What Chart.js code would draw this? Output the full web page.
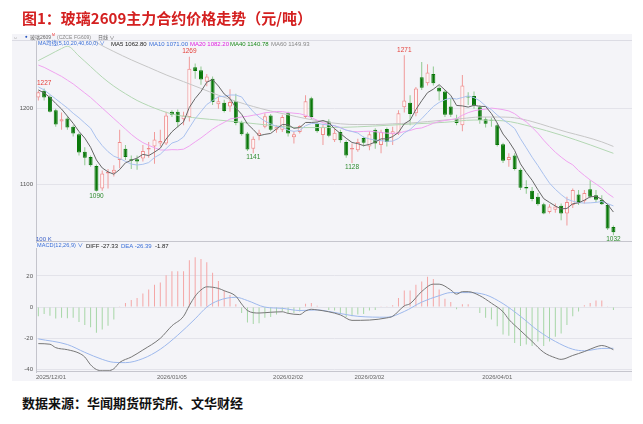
<!DOCTYPE html>
<html>
<head>
<meta charset="utf-8">
<title>玻璃2609主力合约价格走势</title>
<script src="https://cdn.jsdelivr.net/npm/chart.js@4.4.1/dist/chart.umd.min.js"></script>
<style>
  body { margin: 0; width: 643px; height: 424px; background: #fff; position: relative; overflow: hidden; }
  .abs { position: absolute; white-space: nowrap; line-height: 1; }
  #title { left: 22px; top: 7px; font: bold 15px "Noto Sans CJK SC", sans-serif; color: #d42020; }
  #source { left: 22px; top: 393px; font: bold 13px "Noto Sans CJK SC", sans-serif; color: #111; }
  #panel { left: 12px; top: 34px; width: 620px; height: 347px; background: #f4f4f8; }
  #topline { left: 12px; top: 40px; width: 620px; height: 1px; background: #dcdce4; }
  .tiny { font-size: 6px; font-family: "Liberation Sans", "Noto Sans CJK SC", sans-serif; }
  canvas { position: absolute; left: 0; }
</style>
</head>
<body>
<div id="panel" class="abs"></div>
<div id="topline" class="abs"></div>
<canvas id="macdChart" width="643" height="148" style="top:242px"></canvas>
<canvas id="priceChart" width="643" height="220" style="top:30px"></canvas>

<div id="title" class="abs">图1：玻璃2609主力合约价格走势（元/吨）</div>

<span class="abs tiny" style="left:13px;top:34.5px;color:#777;font-size:5px">⇔</span>
<span class="abs tiny" style="left:25px;top:34.5px;color:#1f4fbf;font-size:4.5px">●</span>
<span class="abs tiny" style="left:30px;top:34.5px;color:#666;font-size:5px">玻璃2609</span>
<span class="abs tiny" style="left:52px;top:33.5px;color:#e33;font-size:3.5px">M</span>
<span class="abs tiny" style="left:57px;top:34.5px;color:#888;font-size:5px">(CZCE</span>
<span class="abs tiny" style="left:74px;top:34.5px;color:#888;font-size:5px">FG609)</span>
<span class="abs tiny" style="left:98px;top:34.5px;color:#666;font-size:5px">日线 ∨</span>

<span class="abs tiny" style="left:38px;top:40.5px;color:#3a6fd8;font-size:5.4px">MA均线(5,10,20,40,60,0) ∨</span>
<span class="abs tiny" style="left:111px;top:40.5px;color:#222">MA5 1062.80</span>
<span class="abs tiny" style="left:149px;top:40.5px;color:#3a6fd8">MA10 1071.00</span>
<span class="abs tiny" style="left:190px;top:40.5px;color:#e020e0">MA20 1082.20</span>
<span class="abs tiny" style="left:230px;top:40.5px;color:#1a8a1a">MA40 1140.78</span>
<span class="abs tiny" style="left:271px;top:40.5px;color:#888">MA60 1149.93</span>

<span class="abs tiny" style="left:36px;top:236px;color:#3a5fc8">100 K</span>
<span class="abs tiny" style="left:37px;top:243px;color:#3a6fd8;font-size:5.6px">MACD(12,26,9) ∨</span>
<span class="abs tiny" style="left:86px;top:243px;color:#222">DIFF -27.33</span>
<span class="abs tiny" style="left:121px;top:243px;color:#3a6fd8">DEA -26.39</span>
<span class="abs tiny" style="left:155px;top:243px;color:#222">-1.87</span>

<div id="source" class="abs">数据来源：华闻期货研究所、文华财经</div>

<script>
//DATA

const dates = [
  "2025/12/01","2025/12/02","2025/12/03","2025/12/04","2025/12/05","2025/12/08","2025/12/09","2025/12/10","2025/12/11","2025/12/12",
  "2025/12/15","2025/12/16","2025/12/17","2025/12/18","2025/12/19","2025/12/22","2025/12/23","2025/12/24","2025/12/25","2025/12/26",
  "2025/12/29","2025/12/30","2025/12/31","2026/01/05","2026/01/06","2026/01/07","2026/01/08","2026/01/09","2026/01/12","2026/01/13",
  "2026/01/14","2026/01/15","2026/01/16","2026/01/19","2026/01/20","2026/01/21","2026/01/22","2026/01/23","2026/01/26","2026/01/27",
  "2026/01/28","2026/01/29","2026/01/30","2026/02/02","2026/02/03","2026/02/04","2026/02/05","2026/02/06","2026/02/09","2026/02/10",
  "2026/02/11","2026/02/12","2026/02/13","2026/02/24","2026/02/25","2026/02/26","2026/02/27","2026/03/02","2026/03/03","2026/03/04",
  "2026/03/05","2026/03/06","2026/03/09","2026/03/10","2026/03/11","2026/03/12","2026/03/13","2026/03/16","2026/03/17","2026/03/18",
  "2026/03/19","2026/03/20","2026/03/23","2026/03/24","2026/03/25","2026/03/26","2026/03/27","2026/03/30","2026/03/31","2026/04/01",
  "2026/04/02","2026/04/03","2026/04/07","2026/04/08","2026/04/09","2026/04/10","2026/04/13","2026/04/14","2026/04/15","2026/04/16",
  "2026/04/17","2026/04/20","2026/04/21","2026/04/22","2026/04/23","2026/04/24","2026/04/27","2026/04/28","2026/04/29","2026/04/30"
];

const opens = [
  1215,1224,1216,1198,1183,1187,1176,1166,1143,1136, 1124,1094,1114,1115,1132,1147,1133,1133,1134,1146,
  1150,1154,1154,1196,1196,1186,1189,1255,1251,1236, 1240,1206,1208,1203,1210,1182,1167,1147,1164,1176,
  1191,1172,1172,1194,1162,1169,1189,1214,1180,1165, 1183,1158,1169,1156,1146,1145,1161,1150,1172,1152,
  1173,1166,1167,1202,1208,1194,1242,1234,1246,1228, 1223,1203,1187,1178,1216,1217,1202,1186,1185,1178,
  1153,1132,1138,1119,1096,1091,1083,1073,1063,1066, 1071,1061,1072,1086,1077,1093,1085,1079,1072,1043
];
const highs = [
  1224,1227,1218,1200,1195,1190,1178,1168,1149,1138, 1126,1118,1120,1125,1172,1152,1138,1138,1152,1156,
  1169,1172,1196,1198,1199,1196,1269,1260,1256,1246, 1243,1216,1212,1226,1220,1184,1169,1163,1172,1194,
  1193,1178,1192,1196,1170,1178,1218,1216,1182,1180, 1186,1174,1172,1158,1154,1160,1163,1170,1174,1172,
  1175,1176,1198,1271,1218,1229,1262,1259,1256,1231, 1225,1214,1192,1245,1222,1223,1205,1189,1188,1181,
  1155,1141,1141,1121,1105,1096,1088,1075,1073,1074, 1074,1083,1094,1092,1092,1105,1092,1085,1074,1045
];
const lows = [
  1211,1211,1195,1176,1172,1172,1163,1138,1125,1123, 1090,1091,1094,1110,1121,1132,1120,1119,1130,1135,
  1127,1150,1152,1189,1175,1178,1183,1240,1232,1230, 1205,1200,1195,1196,1178,1164,1144,1141,1158,1174,
  1170,1168,1169,1163,1154,1167,1187,1186,1168,1152, 1162,1156,1155,1135,1128,1143,1150,1145,1147,1141,
  1150,1152,1165,1195,1178,1190,1225,1231,1231,1211, 1189,1189,1178,1170,1205,1200,1180,1175,1176,1150,
  1128,1123,1118,1092,1087,1077,1071,1060,1061,1062, 1052,1045,1068,1072,1074,1081,1076,1072,1039,1032
];
const closes = [
  1222,1215,1196,1179,1186,1175,1167,1142,1135,1125, 1091,1114,1116,1119,1156,1136,1131,1130,1144,1148,
  1159,1157,1191,1192,1182,1191,1253,1250,1239,1243, 1209,1210,1197,1209,1181,1166,1146,1160,1168,1190,
  1172,1176,1189,1167,1166,1177,1210,1189,1170,1176, 1164,1168,1158,1138,1148,1156,1155,1166,1154,1169,
  1156,1170,1194,1211,1193,1227,1228,1248,1234,1223, 1192,1192,1181,1231,1215,1204,1185,1180,1184,1152,
  1131,1136,1120,1095,1094,1080,1073,1061,1070,1070, 1061,1076,1092,1076,1088,1083,1079,1073,1041,1036
];

const ma5 = [
  1225,1221,1215,1207,1199.6,1190.2,1180.6,1169.8,1161,1148.8, 1132,1121.4,1116.2,1113,1119.2,1128.2,1131.6,1134.4,1139.4,1137.8,
  1142.4,1147.6,1159.8,1169.4,1176.2,1182.6,1201.8,1213.6,1223,1235.2, 1238.8,1230.2,1219.6,1213.6,1201.2,1192.6,1179.8,1172.4,1164.2,1166,
  1167.2,1173.2,1179,1178.8,1174,1175,1181.8,1181.8,1182.4,1184.4, 1181.8,1173.4,1167.2,1160.8,1155.2,1153.6,1151,1152.6,1155.8,1160,
  1160,1163,1168.6,1180,1184.8,1199,1210.6,1221.4,1226,1232, 1225,1217.8,1204.4,1203.8,1202.2,1204.6,1203.2,1203,1193.6,1181,
  1166.4,1156.6,1144.6,1126.8,1115.2,1105,1092.4,1080.6,1075.6,1070.8, 1067,1067.6,1073.8,1075,1078.6,1083,1083.6,1079.8,1072.8,1062.8
];
const ma10 = [
  1229,1225,1219,1213,1207,1201,1194,1188,1181,1174.2, 1161.1,1151,1143,1137,1134,1130.1,1126.5,1125.3,1126.2,1128.5,
  1135.3,1139.6,1147.1,1154.4,1157,1162.5,1174.7,1186.7,1196.2,1205.7, 1210.7,1216,1216.6,1218.3,1218.2,1215.7,1205,1196,1188.9,1183.6,
  1179.9,1176.5,1175.7,1171.5,1170,1171.1,1177.5,1180.4,1180.6,1179.2, 1178.4,1177.6,1174.5,1171.6,1169.8,1167.7,1162.2,1159.9,1158.3,1157.6,
  1156.8,1157,1160.6,1167.9,1172.4,1179.5,1186.8,1195,1203,1208.4, 1212,1214.2,1212.9,1214.9,1217.1,1214.8,1210.5,1203.7,1198.7,1191.6,
  1185.5,1179.9,1173.8,1160.2,1148.1,1135.7,1124.5,1112.6,1101.2,1093, 1086,1080,1077.2,1075.3,1074.7,1075,1075.6,1076.8,1073.9,1071
];
const ma20 = [
  1258,1255,1251,1247,1243,1238,1233,1227,1221,1215, 1208,1201,1194,1187,1180,1173,1166,1160,1155,1151.4,
  1148.2,1145.3,1145.1,1145.7,1145.5,1146.3,1150.6,1156,1161.2,1167.1, 1173,1177.8,1181.9,1186.4,1187.6,1189.1,1189.9,1191.4,1192.6,1194.7,
  1195.3,1196.3,1196.2,1194.9,1194.1,1193.4,1191.3,1188.2,1184.8,1181.4, 1179.2,1177.1,1175.1,1171.6,1169.9,1169.4,1169.9,1170.2,1169.5,1168.4,
  1167.6,1167.3,1167.6,1169.8,1171.1,1173.6,1174.5,1177.5,1180.7,1183, 1184.4,1185.6,1186.8,1191.4,1194.8,1197.2,1198.7,1199.4,1200.9,1200,
  1198.8,1197.1,1193.4,1187.6,1182.6,1175.3,1167.5,1158.2,1150,1142.3, 1135.8,1130,1125.5,1117.8,1111.4,1105.4,1100.1,1094.7,1087.6,1082.2
];
const ma40Idx = [0, 2, 4, 5, 7, 9, 11, 13, 15, 17, 19, 21, 23, 25, 28, 31, 35, 40, 45, 50, 55, 60, 65, 70, 75, 80, 85, 90, 95, 99];
const ma40Vals = [1264, 1272, 1280, 1283, 1270, 1256, 1242, 1230, 1220, 1211, 1204, 1198, 1193, 1190, 1187, 1185, 1182, 1178, 1175, 1175, 1176, 1178, 1180, 1182, 1185, 1184, 1176, 1165, 1152, 1140.8];
const ma60Idx = [8, 10, 13, 16, 19, 22, 25, 28, 31, 34, 37, 40, 43, 46, 49, 52, 55, 58, 61, 64, 67, 70, 73, 76, 79, 82, 85, 88, 91, 94, 97, 99];
const ma60Vals = [1298, 1288, 1276, 1265, 1255, 1245, 1236, 1227, 1218, 1210, 1203, 1197, 1192, 1187, 1183, 1180, 1179, 1179, 1180, 1181, 1183, 1185, 1187, 1189, 1189, 1188, 1183, 1176, 1169, 1163, 1156, 1149.9];

const macdHist = [
  -5.9,-4.4,-5.5,-7.3,-6.9,-7.1,-6.9,-9.5,-11.5,-12.9, -16.4,-14.3,-11.9,-7.9,0.3,2.6,4.6,5.9,8.7,11.3,
  14.3,15.8,20.4,23,23,23,30,32,30.8,28.8, 22,16.7,10.7,7.7,1.8,-3.8,-9.9,-10.9,-10.3,-6.9,
  -6.3,-4.8,-2.8,-3.8,-3.8,-2.8,2.2,2.6,0.8,-0.3, -1.8,-2.2,-3.8,-6.3,-5.9,-4.8,-4.4,-2.2,-1.8,0.6,
  0.3,1.2,5.9,10.7,10.7,14.3,16.4,19.4,18,11.3, 5.3,3.2,-1.4,1.8,1.8,0.4,-3.8,-6.9,-7.9,-12.3,
  -17.6,-18.4,-23,-25,-24,-25,-22,-25,-22,-19, -17,-11.5,-5.9,-2.8,1.2,2.6,4.2,4.2,0.6,-1.87
];
const diffIdx = [0, 2, 3, 5, 7, 8, 9, 10, 11, 12, 13, 14, 16, 18, 21, 23, 25, 26, 27, 28, 29, 31, 32, 34, 35, 36, 38, 40, 42, 43, 45, 46, 47, 48, 50, 52, 54, 57, 60, 61, 63, 64, 66, 68, 69, 71, 72, 73, 74, 76, 78, 80, 81, 83, 85, 87, 89, 90, 92, 94, 96, 97, 98, 99];
const diffVals = [-23.4, -23.8, -26, -27.3, -29.5, -32, -37, -40, -40.8, -40.8, -39.5, -35.5, -32, -27.5, -20, -12, -5.9, 1, 7, 11, 13, 12, 10.5, 7, 2, -2.2, -3.8, -3.3, -3, -4, -4.8, -2.5, -1.4, -1.8, -3, -5, -8.5, -8.3, -6.9, -5.9, 0.8, 2.2, 10, 14.7, 14.7, 11, 8.3, 9.9, 9.9, 7.3, 2.5, -3, -7.9, -15, -22, -29, -32.5, -33.5, -31, -28.5, -25.5, -24.6, -25.5, -27.33];
const deaIdx = [0, 5, 8, 11, 13, 15, 18, 21, 24, 27, 29, 31, 34, 36, 39, 42, 45, 48, 50, 53, 55, 60, 63, 66, 69, 71, 74, 77, 80, 83, 86, 89, 92, 94, 97, 99];
const deaVals = [-20.4, -24, -29, -33.5, -35.4, -35.6, -33, -27, -18, -7.5, 0, 4.2, 6.3, 4.2, 0, -0.8, -2.2, -1.8, -2.8, -4.8, -5.9, -6.5, -2.8, 3.2, 7.3, 9.3, 9.3, 7.9, 2.2, -5.9, -15, -22, -27, -28, -26.5, -26.39];

const priceTicks = [1100, 1200];
const macdTicks = [20, 0, -20, -40];
const dateTickIdx = [0, 23, 43, 57, 79];

// high / low marks written on the price panel
const markIdx = [1, 26, 63, 10, 37, 54, 99];
const markVals = [1227, 1269, 1271, 1090, 1141, 1128, 1032];

//HELPERS

function series(values) {
  return values.map((v, i) => ({ x: i, y: v }));
}
function toPoints(xs, ys) {
  return xs.map((x, k) => ({ x: x, y: ys[k] }));
}

const isUp = closes.map((c, i) => c >= opens[i]);
const bodyFill = isUp.map(up => (up ? "#fff6f6" : "#0a780a"));
const bodyLine = isUp.map(up => (up ? "#ef8a8a" : "#0a780a"));
const wickColor = isUp.map(up => (up ? "#f09a9a" : "#8fc98f"));

const tickFont = { size: 6, family: "Liberation Sans" };

function lineSet(label, data, color, smooth) {
  return {
    type: "line",
    label: label,
    data: data,
    borderColor: color,
    borderWidth: 1,
    pointRadius: 0,
    tension: smooth ? 0.4 : 0,
    cubicInterpolationMode: smooth ? "monotone" : "default",
    order: -1,
  };
}

function yAxis(min, max, ticksList) {
  return {
    min: min,
    max: max,
    afterFit: s => { s.width = 36; },
    afterBuildTicks: s => { s.ticks = ticksList.map(v => ({ value: v })); },
    grid: { color: "#e3e3ea", drawTicks: false },
    border: { color: "#c4c4cc" },
    ticks: { padding: 3, color: "#555", font: tickFont, callback: v => String(v) },
  };
}

const xAxis = { type: "linear", min: -0.4, max: 102.2, offset: false, display: false };

//PLUGINS

const framePlugin = {
  id: "frame",
  afterDraw(chart) {
    const { ctx, chartArea: a } = chart;
    ctx.save();
    ctx.strokeStyle = "#c6c6ce";
    ctx.lineWidth = 1;
    ctx.beginPath();
    ctx.moveTo(a.left, Math.round(a.bottom) - 0.5);
    ctx.lineTo(a.right, Math.round(a.bottom) - 0.5);
    ctx.stroke();
    ctx.restore();
  },
};

const markPlugin = {
  id: "marks",
  afterDatasetsDraw(chart) {
    const xs = chart.scales.x;
    const ys = chart.scales.y;
    const ctx = chart.ctx;
    ctx.save();
    ctx.font = '6.5px "Liberation Sans"';
    ctx.textAlign = "center";
    markIdx.forEach((idx, k) => {
      const v = markVals[k];
      const above = v === highs[idx];
      ctx.fillStyle = above ? "#e5413b" : "#2e8b2e";
      ctx.textBaseline = above ? "bottom" : "top";
      ctx.fillText(String(v), xs.getPixelForValue(idx), ys.getPixelForValue(v) + (above ? -2 : 1));
    });
    ctx.restore();
  },
};

const datePlugin = {
  id: "dates",
  afterDraw(chart) {
    const xs = chart.scales.x;
    const a = chart.chartArea;
    const ctx = chart.ctx;
    ctx.save();
    ctx.font = '6px "Liberation Sans"';
    ctx.fillStyle = "#666";
    ctx.textBaseline = "middle";
    ctx.textAlign = "left";
    dateTickIdx.forEach(idx => {
      const text = dates[idx];
      const w = ctx.measureText(text).width;
      let x = xs.getPixelForValue(idx) - w / 2;
      if (x < a.left) x = a.left;
      ctx.fillText(text, x, a.bottom + 5);
    });
    ctx.restore();
  },
};

//PRICE CHART

new Chart(document.getElementById("priceChart"), {
  type: "bar",
  data: {
    datasets: [
      lineSet("MA5", series(ma5), "#666666", false),
      lineSet("MA10", series(ma10), "#a9c1ee", false),
      lineSet("MA20", series(ma20), "#f0a2f0", false),
      lineSet("MA40", toPoints(ma40Idx, ma40Vals), "#b3d7b3", true),
      lineSet("MA60", toPoints(ma60Idx, ma60Vals), "#c6c6c6", true),
      {
        label: "body",
        data: closes.map((c, i) => ({ x: i, y: [opens[i], c] })),
        backgroundColor: bodyFill,
        borderColor: bodyLine,
        borderWidth: 1,
        borderSkipped: false,
        barThickness: 4,
        minBarLength: 1,
        inflateAmount: 0,
        grouped: false,
        order: 0,
      },
      {
        label: "wick",
        data: lows.map((l, i) => ({ x: i, y: [l, highs[i]] })),
        backgroundColor: wickColor,
        borderWidth: 0,
        barThickness: 1,
        inflateAmount: 0,
        grouped: false,
        order: 1,
      },
    ],
  },
  options: {
    responsive: false,
    animation: false,
    devicePixelRatio: 1,
    layout: { padding: { top: 11, right: 11, bottom: 8, left: 0 } },
    plugins: { legend: { display: false }, tooltip: { enabled: false } },
    scales: { x: xAxis, y: yAxis(1023, 1290, priceTicks) },
  },
  plugins: [framePlugin, markPlugin],
});

//MACD CHART

new Chart(document.getElementById("macdChart"), {
  type: "bar",
  data: {
    datasets: [
      lineSet("DIFF", toPoints(diffIdx, diffVals), "#777777", true),
      lineSet("DEA", toPoints(deaIdx, deaVals), "#9db8ec", true),
      {
        label: "MACD",
        data: series(macdHist),
        backgroundColor: macdHist.map(v => (v >= 0 ? "#f4a6a6" : "#a6d6a6")),
        borderWidth: 0,
        barThickness: 1,
        inflateAmount: 0,
        grouped: false,
        order: 1,
      },
    ],
  },
  options: {
    responsive: false,
    animation: false,
    devicePixelRatio: 1,
    layout: { padding: { top: 0, right: 11, bottom: 18, left: 0 } },
    plugins: { legend: { display: false }, tooltip: { enabled: false } },
    scales: { x: xAxis, y: yAxis(-41.6, 37.5, macdTicks) },
  },
  plugins: [framePlugin, datePlugin],
});
</script>
</body>
</html>
